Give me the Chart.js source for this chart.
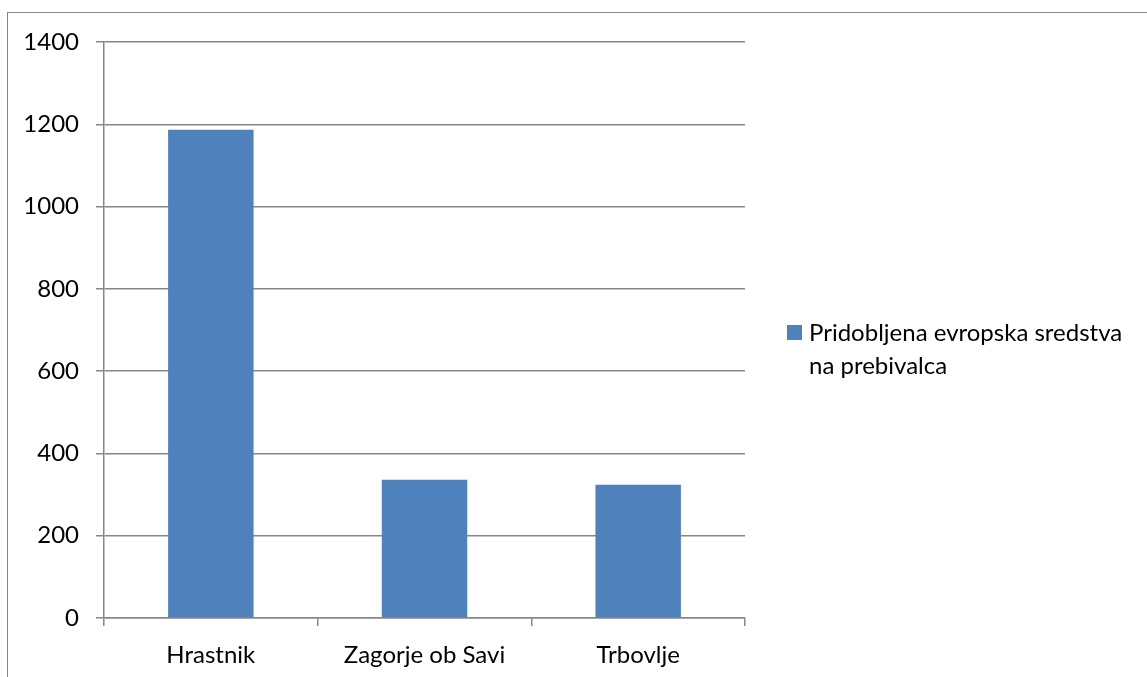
<!DOCTYPE html>
<html>
<head>
<meta charset="utf-8">
<title>Pridobljena evropska sredstva</title>
<script src="https://cdn.jsdelivr.net/npm/chart.js@4/dist/chart.umd.min.js"></script>
<style>
  html, body { margin: 0; padding: 0; background: #fff; }
  #wrap { position: relative; width: 1147px; height: 677px; overflow: hidden; }
  #frame {
    position: absolute; left: 7px; top: 12px; right: -10px; bottom: -10px;
    border-top: 1.5px solid #878787; border-left: 1.5px solid #878787;
  }
  canvas { position: absolute; left: 0; top: 0; }
</style>
</head>
<body>
<div id="wrap">
  <div id="frame"></div>
  <canvas id="chart" width="1147" height="677"></canvas>
</div>
<script>
// občine in sredstva na prebivalca
const categories = ["Hrastnik", "Zagorje ob Savi", "Trbovlje"];
const values = [1187, 336, 324];
const seriesLabel = ["Pridobljena evropska sredstva", "na prebivalca"];
const yMin = 0, yMax = 1400, yStep = 200;

const FONT = "Lato, 'Noto Sans', sans-serif";
const FONT_SIZE = 24;
const gridColor = "#878787";
const barColor = "#4F81BD";

// legenda desno od grafa, v dveh vrsticah
const sideLegend = {
  id: "sideLegend",
  afterDraw(chart) {
    const ctx = chart.ctx;
    const x = chart.chartArea.right + 42;
    const y = 325;
    ctx.save();
    ctx.fillStyle = barColor;
    ctx.fillRect(x, y, 15, 15);
    ctx.fillStyle = "#000";
    ctx.font = FONT_SIZE + "px " + FONT;
    ctx.textBaseline = "alphabetic";
    seriesLabel.forEach((line, i) => {
      ctx.fillText(line, x + 22, y + 16 + i * 33);
    });
    ctx.restore();
  }
};

const ctx = document.getElementById("chart").getContext("2d");
new Chart(ctx, {
  type: "bar",
  data: {
    labels: categories,
    datasets: [{
      label: seriesLabel.join(" "),
      data: values,
      backgroundColor: barColor,
      borderWidth: 0,
      barPercentage: 0.4,
      categoryPercentage: 1
    }]
  },
  options: {
    responsive: false,
    animation: false,
    layout: { padding: { left: 0, right: 402, top: 42, bottom: 0 } },
    plugins: {
      legend: { display: false },
      tooltip: { enabled: false }
    },
    scales: {
      x: {
        afterFit(scale) { scale.height = 59; },
        grid: {
          offset: true,
          drawOnChartArea: false,
          drawTicks: true,
          tickLength: 8,
          color: gridColor,
          lineWidth: 1.5
        },
        border: { color: gridColor, width: 1.5 },
        ticks: {
          color: "#000",
          padding: 15,
          font: { family: FONT, size: FONT_SIZE }
        }
      },
      y: {
        min: yMin,
        max: yMax,
        afterFit(scale) { scale.width = 104; },
        grid: {
          color: gridColor,
          lineWidth: 1.5,
          drawTicks: true,
          tickLength: 8
        },
        border: { color: gridColor, width: 1.5 },
        ticks: {
          stepSize: yStep,
          color: "#000",
          padding: 17,
          font: { family: FONT, size: FONT_SIZE },
          callback: v => String(v)
        }
      }
    }
  },
  plugins: [sideLegend]
});
</script>
</body>
</html>
